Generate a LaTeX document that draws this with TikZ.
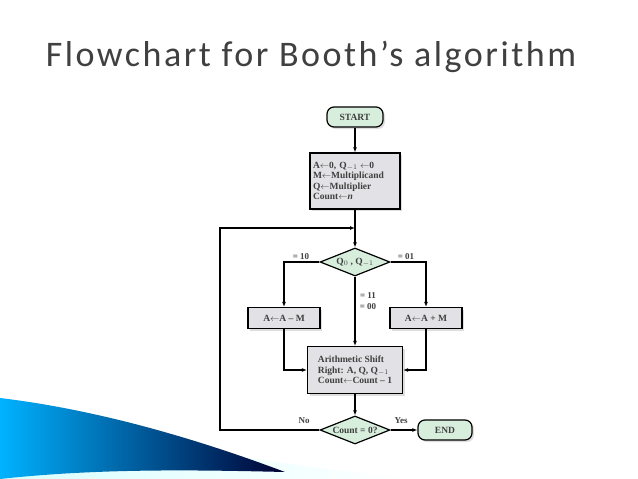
\documentclass[tikz,border=0pt]{standalone}
\usepackage{fontspec}
\setmainfont{Liberation Serif}
\newfontfamily\titlefont[LetterSpace=7]{Carlito}
\usetikzlibrary{shapes.geometric,arrows.meta,shadows}
\definecolor{tgreen}{HTML}{D8EEDC}
\definecolor{tgray}{HTML}{E2E2E6}
\definecolor{ttxt}{HTML}{404040}
\begin{document}
\begin{tikzpicture}[x=1pt,y=-1pt,
  every node/.style={font=\bfseries\fontsize{9.5}{10.5}\selectfont, text=ttxt},
  term/.style={draw, very thick, rounded corners=7pt, fill=tgreen, minimum height=20pt, drop shadow={shadow xshift=2pt,shadow yshift=-2pt,fill=gray!50}},
  procbox/.style={draw, very thick, fill=tgray, drop shadow={shadow xshift=2pt,shadow yshift=-2pt,fill=gray!50}},
  dec/.style={draw, very thick, diamond, aspect=2.5, fill=tgreen, inner sep=1pt, minimum width=70pt, minimum height=28pt},
  arr/.style={very thick, -{Latex[length=5pt,width=4pt]}},
  lbl/.style={font=\bfseries\fontsize{9}{10}\selectfont}]
\useasboundingbox (0,0) rectangle (638,479);
\fill[white] (0,0) rectangle (638,479);
% decorative swoosh
\shade[left color=cyan!15, right color=white] (0,420) .. controls (150,440) and (300,470) .. (420,479) -- (0,479) -- cycle;
\shade[left color=cyan!70!blue, right color=black!80!blue] (0,398) .. controls (100,410) and (200,440) .. (285,472) .. controls (200,470) and (100,468) .. (0,479) -- cycle;
\node[font=\titlefont\fontsize{36}{40}\selectfont, text=ttxt] (title) at (311,57) {Flowchart for Booth’s algorithm};
\node[term, minimum width=56pt] (start) at (355,117) {START};
\node[procbox, align=left, inner sep=2pt, minimum width=90pt, minimum height=56pt, text width=84pt] (init) at (355,181)
 {A$\leftarrow$0, Q$_{-1}\leftarrow$0\\M$\leftarrow$Multiplicand\\Q$\leftarrow$Multiplier\\Count$\leftarrow$\textit{n}};
\node[dec] (d1) at (355,262) {Q$_0$ , Q$_{-1}$};
\node[procbox, minimum width=72pt, minimum height=21pt] (sub) at (284,318) {A$\leftarrow$A -- M};
\node[procbox, minimum width=72pt, minimum height=21pt] (add) at (426,318) {A$\leftarrow$A + M};
\node[procbox, align=left, minimum width=95pt, minimum height=47pt, inner sep=2pt] (shift) at (355,370)
 {Arithmetic Shift\\Right: A, Q, Q$_{-1}$\\Count$\leftarrow$Count -- 1};
\node[dec] (d2) at (355,430) {Count = 0?};
\node[term, minimum width=54pt] (end) at (445,430) {END};
\coordinate (loopx) at (220,228);
\coordinate (join) at (355,228);
\draw[arr] (start) -- (init);
\draw[arr] (init) -- (d1);
\draw[arr] (d1.west) -| (sub.north);
\draw[arr] (d1.east) -| (add.north);
\draw[arr] (d1.south) -- (shift.north);
\draw[arr] (sub.south) |- (shift.west);
\draw[arr] (add.south) |- (shift.east);
\draw[arr] (shift) -- (d2);
\draw[arr] (d2) -- (end);
\draw[arr] (d2.west) -| (loopx) -- (join);
\node[lbl] (l10) at (301,257) {= 10};
\node[lbl] (l01) at (406,257) {= 01};
\node[lbl] (l11) at (368,296) {= 11};
\node[lbl] (l00) at (368,307) {= 00};
\node[lbl] (lno) at (304,421) {No};
\node[lbl] (lyes) at (401,421) {Yes};
\end{tikzpicture}
\end{document}
